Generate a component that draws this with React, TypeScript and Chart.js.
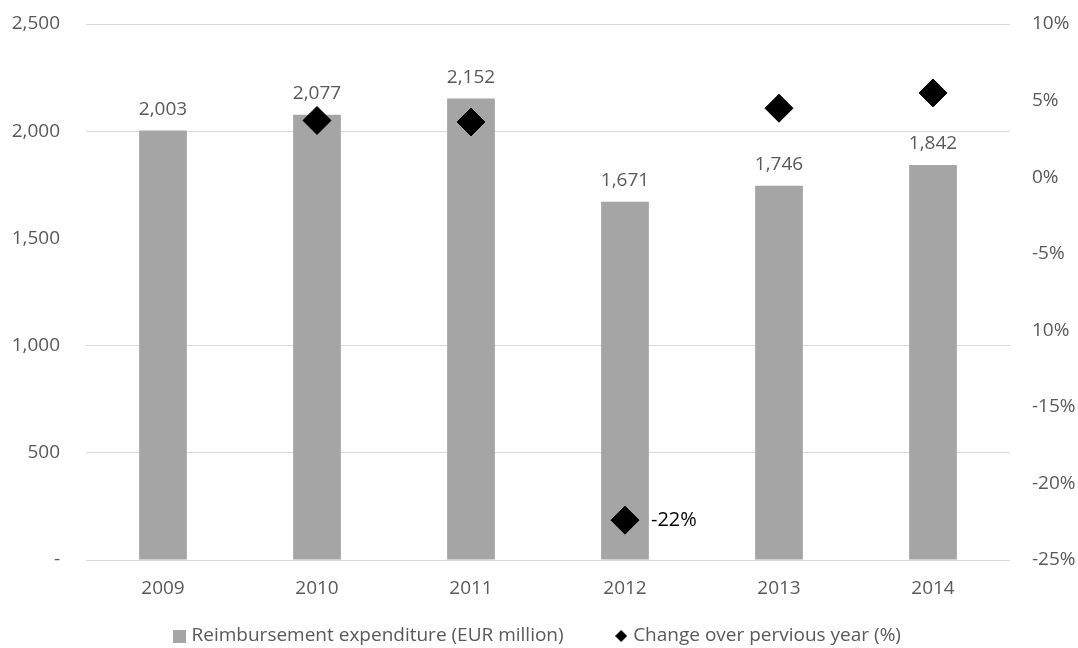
import React, { useEffect, useRef } from 'react';
import { Chart, registerables } from 'chart.js';

Chart.register(...registerables);

const categories = ['2009', '2010', '2011', '2012', '2013', '2014'];
const expenditure = [2003, 2077, 2152, 1671, 1746, 1842];
const expenditureLabels = ['2,003', '2,077', '2,152', '1,671', '1,746', '1,842'];
const changePct: (number | null)[] = [null, 3.7, 3.6, -22.4, 4.5, 5.5];
const changeLabels = ['', '', '', '-22%', '', ''];
const leftTickValues = [0, 500, 1000, 1500, 2000, 2500];
const leftTickLabels = ['-', '500', '1,000', '1,500', '2,000', '2,500'];
const leftGridHidden = [1500];
const rightTickValues = [-25, -20, -15, -10, -5, 0, 5, 10];
const rightTickLabels = ['-25%', '-20%', '-15%', '10%', '-5%', '0%', '5%', '10%'];
const seriesNames = ['Reimbursement expenditure (EUR million)', 'Change over pervious year (%)'];

const FONT = "'Open Sans', 'DejaVu Sans', sans-serif";
const TEXT_GRAY = '#595959';
const BAR_GRAY = '#a5a5a5';
const LEGEND_FONT_SIZE = 19;
const LEGEND_PADDING = 55;
const LEGEND_CENTER_Y = 636;

function makeSquare(size: number, color: string) {
  const c = document.createElement('canvas');
  c.width = size;
  c.height = size;
  const ctx = c.getContext('2d')!;
  ctx.fillStyle = color;
  ctx.fillRect(0, 0, size, size);
  return c;
}

function makeDiamond(size: number, color: string) {
  const c = document.createElement('canvas');
  c.width = size;
  c.height = size;
  const ctx = c.getContext('2d')!;
  ctx.fillStyle = color;
  ctx.beginPath();
  ctx.moveTo(size / 2, 0);
  ctx.lineTo(size, size / 2);
  ctx.lineTo(size / 2, size);
  ctx.lineTo(0, size / 2);
  ctx.closePath();
  ctx.fill();
  return c;
}

const labelPlugin = {
  id: 'valueLabels',
  afterLayout(chart: any) {
    const lg = chart.legend;
    if (!lg) return;
    const current = lg.top + LEGEND_PADDING + LEGEND_FONT_SIZE / 2;
    const dy = LEGEND_CENTER_Y - current;
    lg.top += dy;
    lg.bottom = chart.height;
    lg.height = lg.bottom - lg.top;
  },
  afterDatasetDraw(chart: any, args: any) {
    if (args.index !== 0) return;
    const ctx = chart.ctx;
    const meta = chart.getDatasetMeta(0);
    ctx.save();
    ctx.font = `19px ${FONT}`;
    ctx.fillStyle = TEXT_GRAY;
    ctx.textAlign = 'center';
    ctx.textBaseline = 'alphabetic';
    meta.data.forEach((el: any, i: number) => {
      ctx.fillText(expenditureLabels[i], el.x, el.y - 16);
    });
    ctx.restore();
  },
  afterDatasetsDraw(chart: any) {
    const ctx = chart.ctx;
    const meta = chart.getDatasetMeta(1);
    ctx.save();
    ctx.font = `20px ${FONT}`;
    ctx.fillStyle = '#000000';
    ctx.textAlign = 'left';
    ctx.textBaseline = 'middle';
    meta.data.forEach((el: any, i: number) => {
      if (changeLabels[i]) ctx.fillText(changeLabels[i], el.x + 26, el.y);
    });
    ctx.restore();
  },
};

export default function App() {
  const canvasRef = useRef<HTMLCanvasElement | null>(null);

  useEffect(() => {
    document.body.style.margin = '0';
    const canvas = canvasRef.current!;
    const squareIcon = makeSquare(13, BAR_GRAY);
    const diamondIcon = makeDiamond(12, '#000000');

    const chart = new Chart(canvas, {
      data: {
        labels: categories,
        datasets: [
          {
            type: 'bar',
            label: seriesNames[0],
            data: expenditure,
            backgroundColor: BAR_GRAY,
            borderWidth: 0,
            yAxisID: 'y',
            order: 2,
            barPercentage: 0.31,
            categoryPercentage: 1,
          } as any,
          {
            type: 'line',
            label: seriesNames[1],
            data: changePct,
            yAxisID: 'y1',
            showLine: false,
            pointStyle: 'rectRot',
            pointRadius: 14,
            pointBorderWidth: 1,
            pointBackgroundColor: '#000000',
            pointBorderColor: '#000000',
            backgroundColor: '#000000',
            borderColor: '#000000',
            order: 1,
          } as any,
        ],
      },
      options: {
        animation: false,
        responsive: false,
        layout: { padding: { top: 24, left: 0, right: 0, bottom: 0 } },
        plugins: {
          tooltip: { enabled: false },
          legend: {
            position: 'bottom',
            maxHeight: 43,
            labels: {
              usePointStyle: true,
              boxWidth: 5,
              boxHeight: 13,
              padding: LEGEND_PADDING,
              color: TEXT_GRAY,
              font: { family: FONT, size: LEGEND_FONT_SIZE },
              sort: (a: any, b: any) => a.datasetIndex - b.datasetIndex,
              generateLabels(chart: any) {
                const items = Chart.defaults.plugins.legend.labels.generateLabels(chart);
                items.forEach((it: any) => {
                  it.pointStyle = it.datasetIndex === 0 ? squareIcon : diamondIcon;
                });
                return items;
              },
            },
          },
        },
        scales: {
          x: {
            grid: { display: false, drawTicks: false },
            border: { display: false },
            afterFit(scale: any) {
              scale.height = 45;
            },
            ticks: { color: TEXT_GRAY, font: { family: FONT, size: 19 }, padding: 17 },
          },
          y: {
            position: 'left',
            min: 0,
            max: 2500,
            afterBuildTicks(scale: any) {
              scale.ticks = leftTickValues.map((v) => ({ value: v }));
            },
            afterFit(scale: any) {
              scale.width = 86;
              scale.paddingTop = 12;
              scale.paddingBottom = 12;
            },
            grid: {
              drawTicks: false,
              color: (c: any) =>
                c.tick && leftGridHidden.includes(c.tick.value) ? 'rgba(0,0,0,0)' : '#d9d9d9',
            },
            border: { display: false },
            ticks: {
              color: TEXT_GRAY,
              font: { family: FONT, size: 19 },
              padding: 26,
              callback: (v: any) => {
                const i = leftTickValues.indexOf(Number(v));
                return i >= 0 ? leftTickLabels[i] : '';
              },
            },
          },
          y1: {
            position: 'right',
            min: -25,
            max: 10,
            afterBuildTicks(scale: any) {
              scale.ticks = rightTickValues.map((v) => ({ value: v }));
            },
            afterFit(scale: any) {
              scale.width = 68;
              scale.paddingTop = 12;
              scale.paddingBottom = 12;
            },
            grid: { display: false, drawTicks: false },
            border: { display: false },
            ticks: {
              color: TEXT_GRAY,
              font: { family: FONT, size: 19 },
              padding: 22,
              callback: (v: any) => {
                const i = rightTickValues.indexOf(Number(v));
                return i >= 0 ? rightTickLabels[i] : '';
              },
            },
          },
        },
      } as any,
      plugins: [labelPlugin],
    });
    return () => chart.destroy();
  }, []);

  return (
    <div style={{ width: 1078, height: 648 }}>
      <canvas ref={canvasRef} width={1078} height={648} />
    </div>
  );
}
